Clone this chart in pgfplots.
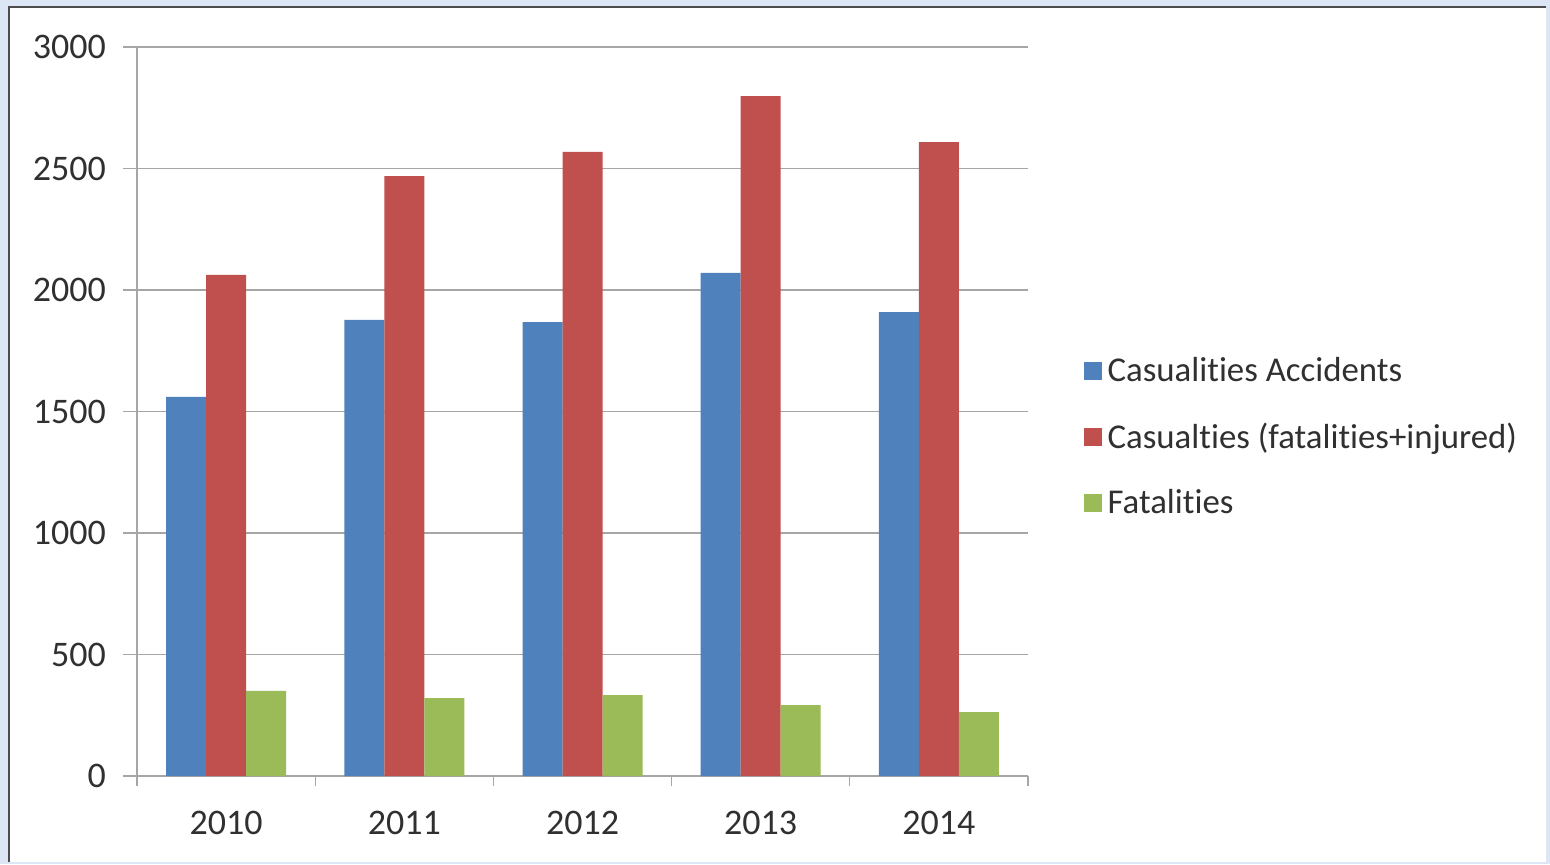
\documentclass[border=0pt]{standalone}
\usepackage{pgfplots}
\pgfplotsset{compat=1.18}
\usepackage{fontspec}
\setmainfont[Ligatures=NoCommon]{Carlito}
\definecolor{barblue}{HTML}{4F81BD}
\definecolor{barred}{HTML}{C0504D}
\definecolor{bargreen}{HTML}{9BBB59}
\definecolor{framebg}{HTML}{DCE6F4}
\definecolor{gridgray}{HTML}{A6A6A6}
\definecolor{labelgray}{HTML}{303030}
\begin{document}
\begin{tikzpicture}[x=1pt,y=1pt]
    % frame around the chart (1px = 0.5pt)
    \fill[framebg] (0,0) rectangle (775,432);
    \fill[white] (4.5,1) rectangle (773,428.5);
    \draw[black!70, line width=1pt] (4.5,1) -- (4.5,428.5) -- (773,428.5);
    \begin{axis}[
            at={(68.5pt,44pt)}, anchor=south west,
            scale only axis,
            width=445.5pt, height=364.5pt,
            ybar=0pt, bar width=20pt,
            xmin=-0.5, xmax=4.5,
            ymin=0, ymax=3000,
            xtick={0,1,2,3,4},
            xticklabels={2010,2011,2012,2013,2014},
            minor xtick={-0.5,0.5,1.5,2.5,3.5,4.5},
            ytick={0,500,1000,1500,2000,2500,3000},
            /pgf/number format/1000 sep={},
            /pgf/number format/assume math mode=true,
            tick align=outside,
            major tick length=7pt,
            minor tick length=5pt,
            major x tick style={draw=none},
            minor x tick style={gridgray, line width=0.6pt},
            major y tick style={gridgray, line width=0.6pt},
            axis lines*=left,
            axis line style={-, gridgray, line width=0.6pt},
            ymajorgrids,
            grid style={gridgray, line width=0.6pt},
            tick label style={font=\fontsize{18}{18}\selectfont, text=labelgray},
            xticklabel style={yshift=-7pt},
            yticklabel style={xshift=-5pt},
            legend style={
                    at={(1.062,0.465)}, anchor=west,
                    draw=none, fill=none, inner sep=0pt,
                    font=\fontsize{17.4}{17.4}\selectfont,
                    text=labelgray,
                    row sep=15pt,
                    nodes={inner xsep=3pt},
                },
            legend cell align=left,
            legend image code/.code={\fill[#1] (0pt,-4.5pt) rectangle (9pt,4.5pt);},
        ]
        \addplot[draw=none, fill=barblue] coordinates {
                (0,1560) (1,1877) (2,1868) (3,2070) (4,1909)
            };
        \addlegendentry{Casualities Accidents}
        \addplot[draw=none, fill=barred] coordinates {
                (0,2062) (1,2469) (2,2568) (3,2798) (4,2609)
            };
        \addlegendentry{Casualties (fatalities+injured)}
        \addplot[draw=none, fill=bargreen] coordinates {
                (0,350) (1,321) (2,333) (3,292) (4,263)
            };
        \addlegendentry{Fatalities}
    \end{axis}
\end{tikzpicture}
\end{document}
